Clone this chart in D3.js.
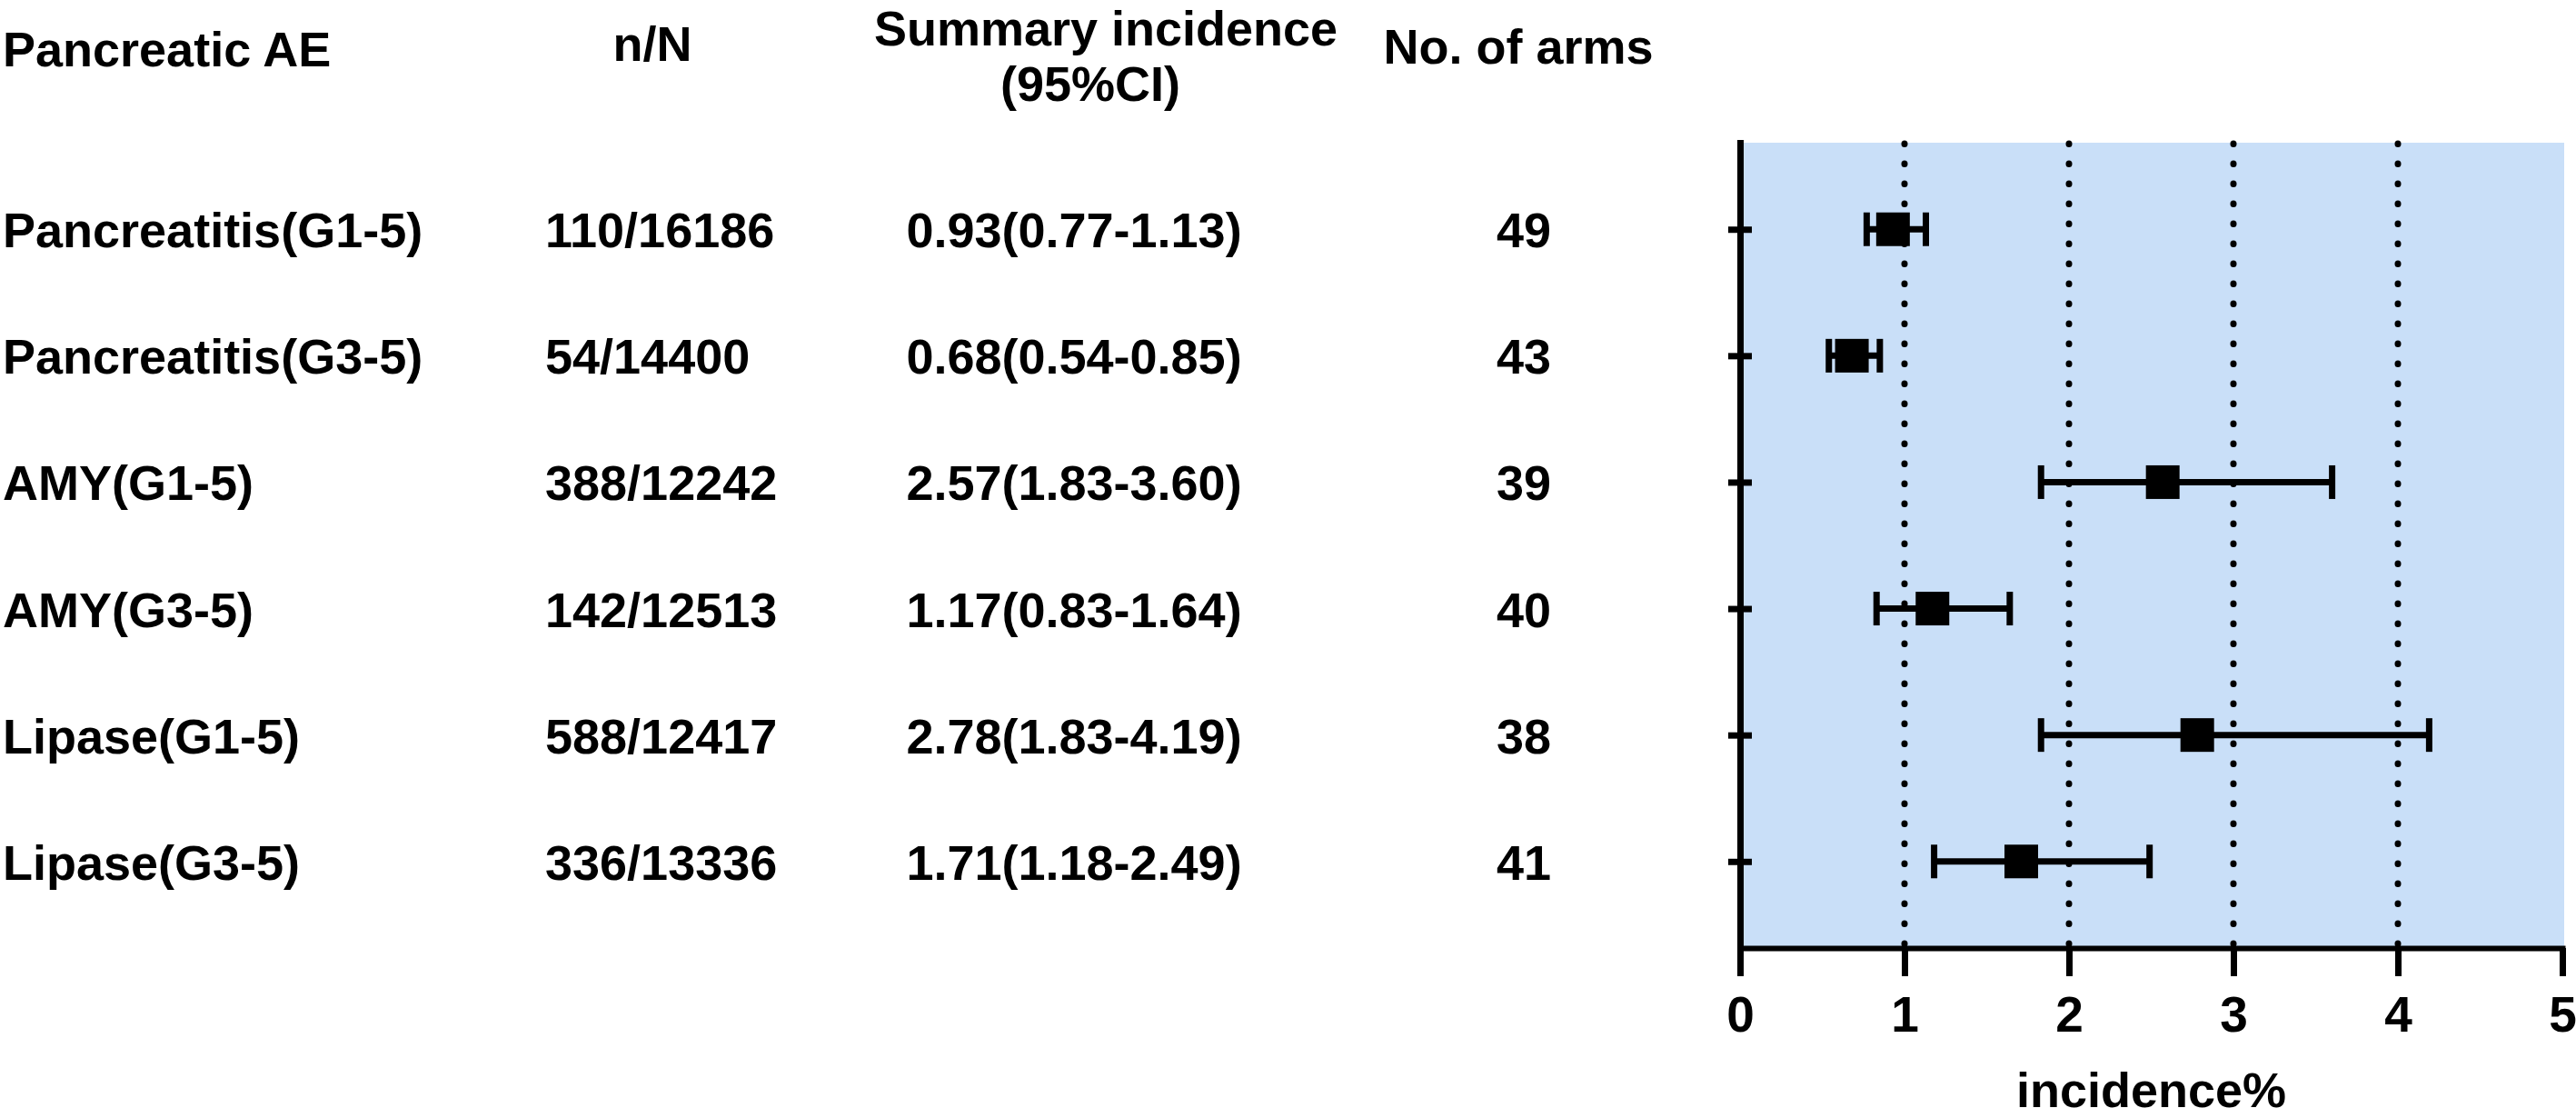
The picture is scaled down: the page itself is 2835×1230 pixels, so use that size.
<!DOCTYPE html>
<html>
<head>
<meta charset="utf-8">
<script src="https://cdn.jsdelivr.net/npm/d3@7"></script>
<style>
  html, body { margin: 0; padding: 0; background: #ffffff; overflow: hidden; }
  svg { display: block; }
  text { font-family: "Liberation Sans", Arial, sans-serif; font-weight: bold; fill: #000; }
</style>
</head>
<body>
<svg id="chart" width="2835" height="1230"></svg>
<script>
// ---- data ----
const categories = ["Pancreatitis(G1-5)", "Pancreatitis(G3-5)", "AMY(G1-5)", "AMY(G3-5)", "Lipase(G1-5)", "Lipase(G3-5)"];
const nN = ["110/16186", "54/14400", "388/12242", "142/12513", "588/12417", "336/13336"];
const estimate = [0.93, 0.68, 2.57, 1.17, 2.78, 1.71];
const lower = [0.77, 0.54, 1.83, 0.83, 1.83, 1.18];
const upper = [1.13, 0.85, 3.60, 1.64, 4.19, 2.49];
const arms = [49, 43, 39, 40, 38, 41];
const xTicks = [0, 1, 2, 3, 4, 5];
const gridValues = [1, 2, 3, 4];
const headers = {label: "Pancreatic AE", nN: "n/N", summary1: "Summary incidence", summary2: "(95%CI)", arms: "No. of arms"};
const xTitle = "incidence%";

const rows = categories.map((c, i) => ({
  cat: c, nN: nN[i], est: estimate[i], lo: lower[i], hi: upper[i], arms: arms[i],
  summary: `${estimate[i].toFixed(2)}(${lower[i].toFixed(2)}-${upper[i].toFixed(2)})`
}));

// ---- layout ----
const svg = d3.select("#chart");
const FS = 54;
const x = d3.scaleLinear().domain([0, 5]).range([1915, 2820]);
const y = d3.scalePoint().domain(categories).range([157, 1043]).padding(0.6846);
const plotTop = 157, plotBottom = 1043;

// background panel
svg.append("rect")
  .attr("x", x(0)).attr("y", plotTop)
  .attr("width", x(5) - x(0) + 2).attr("height", plotBottom - plotTop)
  .attr("fill", "#c9dff8");

// dotted gridlines
svg.append("g").selectAll("line").data(gridValues).join("line")
  .attr("x1", d => x(d)).attr("x2", d => x(d))
  .attr("y1", plotTop + 1).attr("y2", plotBottom)
  .attr("stroke", "#000").attr("stroke-width", 7)
  .attr("stroke-linecap", "round").attr("stroke-dasharray", "0.5 21.5");

// error bars
const eb = svg.append("g");
eb.selectAll("line.whisk").data(rows).join("line").attr("class", "whisk")
  .attr("x1", d => x(d.lo)).attr("x2", d => x(d.hi))
  .attr("y1", d => y(d.cat)).attr("y2", d => y(d.cat))
  .attr("stroke", "#000").attr("stroke-width", 7);
eb.selectAll("line.capL").data(rows).join("line").attr("class", "capL")
  .attr("x1", d => x(d.lo)).attr("x2", d => x(d.lo))
  .attr("y1", d => y(d.cat) - 18.5).attr("y2", d => y(d.cat) + 18.5)
  .attr("stroke", "#000").attr("stroke-width", 7);
eb.selectAll("line.capR").data(rows).join("line").attr("class", "capR")
  .attr("x1", d => x(d.hi)).attr("x2", d => x(d.hi))
  .attr("y1", d => y(d.cat) - 18.5).attr("y2", d => y(d.cat) + 18.5)
  .attr("stroke", "#000").attr("stroke-width", 7);
eb.selectAll("rect").data(rows).join("rect")
  .attr("x", d => x(d.est) - 18.5).attr("y", d => y(d.cat) - 18.5)
  .attr("width", 37).attr("height", 37).attr("fill", "#000");

// x axis
const gx = svg.append("g").attr("transform", `translate(0,${plotBottom})`)
  .call(d3.axisBottom(x).tickValues(xTicks).tickFormat(d3.format("d"))
    .tickSize(31).tickSizeOuter(0).tickPadding(22));
gx.select(".domain").attr("stroke", "#000").attr("stroke-width", 6).attr("stroke-linecap", "square");
gx.selectAll(".tick line").attr("stroke", "#000").attr("stroke-width", 7);
gx.selectAll(".tick text").attr("font-size", 55).attr("font-family", "Liberation Sans, Arial, sans-serif")
  .attr("font-weight", "bold").attr("fill", "#000");

// y axis
const gy = svg.append("g").attr("transform", `translate(${x(0)},0)`)
  .call(d3.axisLeft(y).tickSize(13).tickSizeOuter(0).tickFormat(""));
gy.select(".domain").attr("stroke", "#000").attr("stroke-width", 7).attr("stroke-linecap", "square");
gy.selectAll(".tick line").attr("x1", 13).attr("x2", -13).attr("stroke", "#000").attr("stroke-width", 7);

// x axis title
svg.append("text").attr("x", (x(0) + x(5)) / 2).attr("y", 1218)
  .attr("text-anchor", "middle").attr("font-size", FS).text(xTitle);

// headers
const hdr = svg.append("g").attr("font-size", FS);
hdr.append("text").attr("x", 3).attr("y", 73).text(headers.label);
hdr.append("text").attr("x", 718).attr("y", 67).attr("text-anchor", "middle").text(headers.nN);
hdr.append("text").attr("x", 1217).attr("y", 50).attr("text-anchor", "middle").text(headers.summary1);
hdr.append("text").attr("x", 1200).attr("y", 111).attr("text-anchor", "middle").text(headers.summary2);
hdr.append("text").attr("x", 1671).attr("y", 70).attr("text-anchor", "middle").text(headers.arms);

// table rows
const tbl = svg.append("g").attr("font-size", FS);
const base = d => y(d.cat) + 20;
tbl.selectAll("text.lab").data(rows).join("text").attr("class", "lab")
  .attr("x", 3).attr("y", base).text(d => d.cat);
tbl.selectAll("text.nn").data(rows).join("text").attr("class", "nn")
  .attr("x", 600).attr("y", base).text(d => d.nN);
tbl.selectAll("text.sum").data(rows).join("text").attr("class", "sum")
  .attr("x", 1182).attr("y", base).attr("text-anchor", "middle").text(d => d.summary);
tbl.selectAll("text.arms").data(rows).join("text").attr("class", "arms")
  .attr("x", 1677).attr("y", base).attr("text-anchor", "middle").text(d => d.arms);
</script>
</body>
</html>
